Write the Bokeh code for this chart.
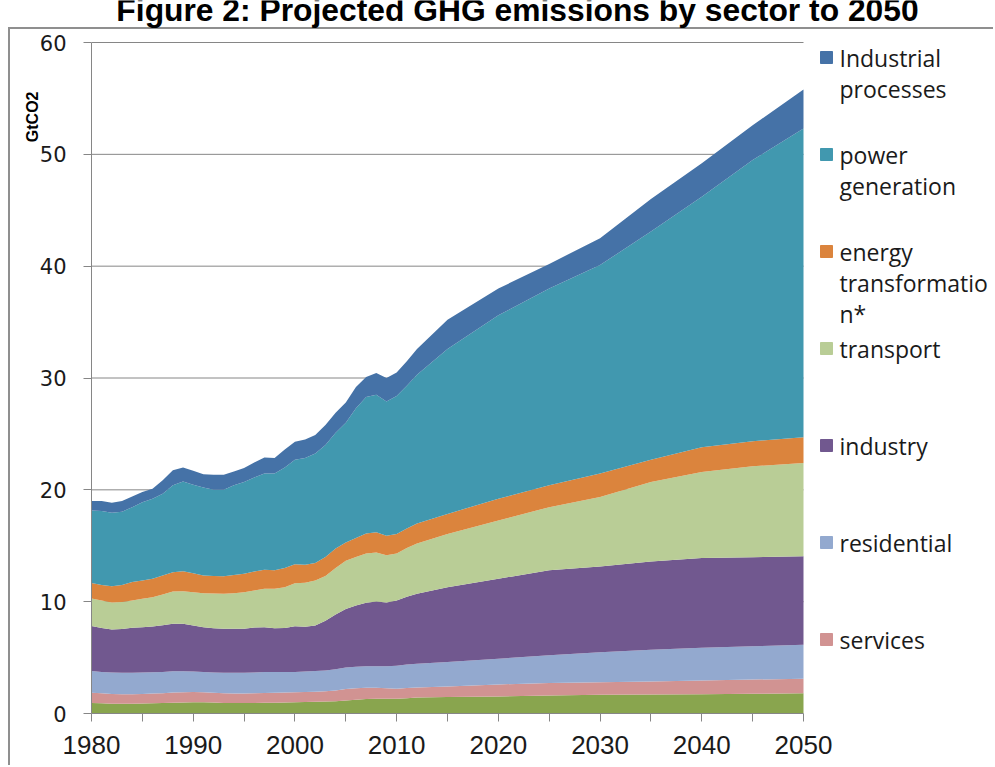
from bokeh.plotting import figure
from bokeh.models import ColumnDataSource, Range1d, FixedTicker, Title
from bokeh.embed import file_html
from bokeh.resources import INLINE
from bokeh.core.properties import value

# ---------------- data (GtCO2) ----------------
years = list(range(1980, 2013)) + [2015, 2020, 2025, 2030, 2035, 2040, 2045, 2050]

other = [0.95, 0.92, 0.88, 0.87, 0.88, 0.90, 0.92, 0.93, 0.96, 0.98, 1.00, 1.00, 0.98, 0.95, 0.93, 0.93,
         0.93, 0.96, 0.97, 0.98, 1.00, 1.02, 1.04, 1.07, 1.10, 1.16, 1.24, 1.30, 1.31, 1.31, 1.31, 1.36,
         1.42, 1.47, 1.53, 1.61, 1.67, 1.70, 1.72, 1.76, 1.82]
services = [0.90, 0.88, 0.87, 0.85, 0.85, 0.85, 0.86, 0.89, 0.92, 0.92, 0.92, 0.90, 0.87, 0.85, 0.85, 0.85,
            0.87, 0.88, 0.88, 0.89, 0.90, 0.90, 0.91, 0.91, 0.95, 1.02, 1.01, 1.00, 0.99, 0.94, 0.91, 0.92,
            0.91, 0.95, 1.07, 1.11, 1.13, 1.16, 1.23, 1.28, 1.28]
residential = [1.95, 1.92, 1.91, 1.92, 1.92, 1.91, 1.90, 1.90, 1.90, 1.88, 1.83, 1.80, 1.81, 1.84, 1.86, 1.86,
               1.86, 1.86, 1.85, 1.83, 1.82, 1.83, 1.85, 1.87, 1.90, 1.94, 1.93, 1.92, 1.92, 1.97, 2.06, 2.10,
               2.12, 2.18, 2.30, 2.48, 2.68, 2.84, 2.93, 2.98, 3.04]
industry = [4.02, 3.93, 3.86, 3.91, 4.01, 4.06, 4.10, 4.18, 4.24, 4.24, 4.13, 4.02, 3.96, 3.93, 3.93, 3.93,
            4.02, 4.02, 3.93, 3.95, 4.08, 4.00, 4.07, 4.45, 4.90, 5.23, 5.47, 5.68, 5.80, 5.70, 5.82, 6.07,
            6.25, 6.70, 7.15, 7.60, 7.67, 7.90, 8.02, 7.96, 7.91]
transport = [2.46, 2.45, 2.41, 2.43, 2.44, 2.53, 2.62, 2.75, 2.88, 2.92, 2.97, 3.04, 3.10, 3.13, 3.18, 3.28,
             3.32, 3.43, 3.52, 3.65, 3.85, 3.95, 4.03, 4.00, 4.15, 4.30, 4.35, 4.40, 4.38, 4.23, 4.20, 4.35,
             4.50, 4.75, 5.20, 5.65, 6.20, 7.10, 7.70, 8.12, 8.35]
energy_transformation = [1.40, 1.40, 1.45, 1.52, 1.65, 1.65, 1.65, 1.70, 1.74, 1.79, 1.70, 1.58, 1.58, 1.58,
                         1.63, 1.64, 1.70, 1.70, 1.65, 1.70, 1.70, 1.60, 1.55, 1.70, 1.75, 1.65, 1.70, 1.80,
                         1.80, 1.75, 1.75, 1.75, 1.80, 1.80, 1.95, 1.95, 2.10, 2.00, 2.20, 2.25, 2.30]
power_generation = [6.47, 6.60, 6.57, 6.55, 6.70, 7.00, 7.15, 7.30, 7.76, 8.02, 7.90, 7.86, 7.70, 7.72, 8.02,
                    8.21, 8.40, 8.60, 8.65, 9.00, 9.35, 9.55, 9.80, 10.00, 10.35, 10.70, 11.60, 12.20, 12.30,
                    12.00, 12.35, 12.75, 13.30, 14.75, 16.40, 17.60, 18.65, 20.40, 22.40, 25.15, 27.60]
industrial_processes = [0.85, 0.90, 0.90, 0.95, 0.95, 0.90, 0.90, 1.20, 1.35, 1.25, 1.25, 1.20, 1.35, 1.35,
                        1.25, 1.25, 1.35, 1.45, 1.40, 1.60, 1.60, 1.65, 1.65, 1.80, 1.80, 1.80, 1.90, 1.80,
                        1.95, 2.10, 2.10, 2.20, 2.30, 2.60, 2.40, 2.20, 2.40, 2.90, 3.00, 3.10, 3.50]

stack_names = ["other", "services", "residential", "industry", "transport",
               "energy_transformation", "power_generation", "industrial_processes"]
stack_colors = ["#89A54E", "#D19392", "#93A9CF", "#71588F", "#B9CD96",
                "#DB843D", "#4198AF", "#4572A7"]

legend_labels = ["Industrial\nprocesses", "power\ngeneration", "energy\ntransformatio\nn*",
                 "transport", "industry", "residential", "services"]
legend_colors = ["#4572A7", "#4198AF", "#DB843D", "#B9CD96", "#71588F", "#93A9CF", "#D19392"]

title_text = "Figure 2: Projected GHG emissions by sector to 2050"
y_title = "GtCO2"
x_ticks = [1980, 1990, 2000, 2010, 2020, 2030, 2040, 2050]
x_minor = [1985, 1995, 2005, 2015, 2025, 2035, 2045]
y_ticks = [0, 10, 20, 30, 40, 50, 60]

# ---------------- layout (canvas pixels) ----------------
W, H = 993, 765
FL = 91                     # frame left (x = 1980)
Y0 = 713                    # canvas y of value 0 (frame bottom)
Y60 = 42                    # canvas y of value 60
FH = Y0                     # frame spans from canvas top to the x axis
FB = H - FH
FW = W - FL
XPX = 712 / 70.0            # pixels per year
YPX = (Y0 - Y60) / 60.0     # pixels per GtCO2
x_end = 1980 + FW / XPX
y_top = Y0 / YPX


def dx(cx):   # canvas x -> data x
    return 1980 + (cx - FL) / XPX


def dy(cy):   # canvas y -> data y
    return (Y0 - cy) / YPX


BORDER = "#8f8f8f"
bg_css = ("linear-gradient(%s,%s) 8px 27px / 2px 3000px no-repeat, "
          "linear-gradient(%s,%s) 8px 27px / 3000px 2px no-repeat, #ffffff") % (BORDER, BORDER, BORDER, BORDER)

p = figure(frame_width=FW, frame_height=FH, min_border_left=FL, min_border_right=0,
           min_border_top=0, min_border_bottom=FB,
           x_range=Range1d(1980, x_end), y_range=Range1d(0, y_top),
           output_backend="svg", toolbar_location=None,
           styles={"background": bg_css})
p.outline_line_color = None
p.background_fill_color = None
p.border_fill_color = None
p.xgrid.visible = False
p.ygrid.visible = False

GRAY = "#868686"
p.segment(x0=[1980] * (len(y_ticks) - 1), x1=[2050] * (len(y_ticks) - 1),
          y0=y_ticks[1:], y1=y_ticks[1:], line_color=GRAY, line_width=1)

data = dict(year=years, other=other, services=services, residential=residential, industry=industry,
            transport=transport, energy_transformation=energy_transformation,
            power_generation=power_generation, industrial_processes=industrial_processes)
src = ColumnDataSource(data)
p.varea_stack(stackers=stack_names, x="year", color=stack_colors, source=src)

# axes
p.xaxis.ticker = FixedTicker(ticks=x_ticks, minor_ticks=x_minor)
p.xaxis.bounds = (1980, 2050)
p.yaxis.ticker = FixedTicker(ticks=y_ticks)
p.yaxis.bounds = (0, 60)
for ax in (p.xaxis[0], p.yaxis[0]):
    ax.axis_line_color = GRAY
    ax.axis_line_width = 1
    ax.major_tick_line_color = GRAY
    ax.major_tick_out = 8
    ax.major_tick_in = 0
    ax.major_label_text_color = "#1a1a1a"
p.xaxis.minor_tick_line_color = GRAY
p.xaxis.minor_tick_out = 8
p.xaxis.minor_tick_in = 0
p.yaxis.minor_tick_line_color = None
p.xaxis.major_label_text_font = "Liberation Sans"
p.xaxis.major_label_text_font_size = "26px"
p.xaxis.major_label_standoff = 14
p.yaxis.major_label_text_font = "DejaVu Sans"
p.yaxis.major_label_text_font_size = "21px"
p.yaxis.major_label_standoff = 17

# y axis title near the top of the left side
p.add_layout(Title(text=y_title, align="right", offset=91, standoff=-8,
                   text_font="Liberation Sans", text_font_style="bold",
                   text_font_size="16px", text_color="#000000"), "left")

# chart title (partly cut at the top edge, as in the reference)
p.text(x=[dx(517)], y=[dy(9)], text=[title_text], text_align="center",
       text_baseline="alphabetic", text_font=value("Liberation Sans"), text_font_style="bold",
       text_font_size="31.8px", text_color="#000000")

# legend (custom, multi-line labels)
item_first_y = [57 + 97 * i for i in range(len(legend_labels))]
line_gap = 31
sq_x, sq_y, sq_c = [], [], []
tx, ty, tt = [], [], []
for lab, col, y0 in zip(legend_labels, legend_colors, item_first_y):
    sq_x.append(dx(826))
    sq_y.append(dy(y0))
    sq_c.append(col)
    for k, line in enumerate(lab.split("\n")):
        tx.append(dx(839))
        ty.append(dy(y0 + k * line_gap))
        tt.append(line)
p.scatter(x=sq_x, y=sq_y, marker="square", size=12, fill_color=sq_c, line_color=sq_c)
p.text(x=tx, y=ty, text=tt, text_font=value("Open Sans"), text_font_size="23px",
       text_baseline="middle", text_align="left", text_color="#1a1a1a")

open("out.html", "w").write(file_html(p, INLINE))
